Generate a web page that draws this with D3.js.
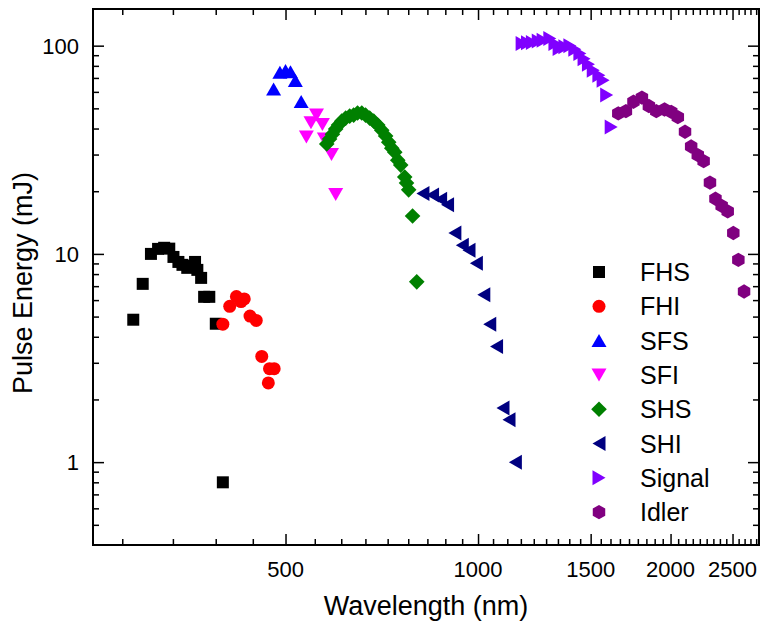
<!DOCTYPE html>
<html>
<head>
<meta charset="utf-8">
<script src="https://cdn.jsdelivr.net/npm/d3@7"></script>
<style>
body { margin: 0; background: #fff; }
text { font-family: "Liberation Sans", Arial, sans-serif; fill: #000; }
</style>
</head>
<body>
<div id="chart"></div>
<script>
// values: wavelength (nm), pulse energy (mJ)
var fhsWl = [289, 299, 308, 316, 323, 329, 334, 340, 345, 351, 358, 361, 364, 369, 373, 380, 389, 399];
var fhsE  = [4.83, 7.18, 10.0, 10.57, 10.7, 10.6, 9.67, 9.15, 8.86, 8.57, 8.76, 9.15, 8.38, 7.67, 6.22, 6.22, 4.62, 0.80];

var fhiWl = [399, 409, 419, 426, 431, 440, 450, 459, 470, 472, 480];
var fhiE  = [4.60, 5.60, 6.24, 5.90, 6.08, 5.03, 4.79, 3.22, 2.40, 2.81, 2.81];

var sfsWl = [479, 490, 500, 509, 518, 529];
var sfsE  = [61.9, 74.6, 75.9, 75.0, 68.0, 53.9];

var sfiWl = [539, 548, 559, 571, 575, 590, 599];
var sfiE  = [36.4, 42.7, 46.4, 41.8, 35.6, 30.0, 19.3];

var shsWl = [580, 586, 592, 599, 605, 612, 621, 630, 639, 648, 658, 667, 677, 687, 697, 707, 717, 725, 733, 741, 749, 757, 768, 773, 779, 790, 802];
var shsE  = [33.7, 35.6, 37.6, 39.8, 41.6, 43.4, 44.9, 45.9, 46.4, 47.5, 47.5, 46.4, 44.9, 43.4, 41.6, 39.3, 36.8, 34.4, 32.2, 30.8, 28.2, 26.7, 23.4, 21.9, 20.3, 15.2, 7.34];

var shiWl = [820, 849, 874, 896, 920, 945, 968, 994, 1021, 1043, 1069, 1094, 1118, 1144];
var shiE  = [19.5, 19.2, 18.3, 17.2, 12.6, 11.0, 10.4, 9.03, 6.36, 4.60, 3.59, 1.82, 1.60, 1.00];

var signalWl = [1172, 1195, 1216, 1242, 1264, 1295, 1319, 1339, 1367, 1392, 1417, 1443, 1465, 1488, 1514, 1545, 1569, 1589, 1615];
var signalE  = [102.5, 103.4, 103.6, 105.3, 106.3, 108.1, 102.5, 97.0, 98.7, 100, 96.2, 91.8, 86.6, 81.5, 76.3, 72.2, 68.3, 57.9, 40.7];

var idlerWl = [1657, 1703, 1750, 1804, 1850, 1900, 1957, 2005, 2053, 2107, 2154, 2206, 2253, 2305, 2351, 2404, 2457, 2507, 2553, 2606];
var idlerE  = [47.3, 48.5, 53.8, 56.3, 51.3, 48.5, 49.4, 48.1, 45.4, 38.6, 32.8, 29.8, 27.9, 22.0, 18.4, 17.0, 16.0, 12.6, 9.36, 6.6];

var seriesNames  = ["FHS", "FHI", "SFS", "SFI", "SHS", "SHI", "Signal", "Idler"];
var seriesColors = ["#000000", "#ff0000", "#0000ff", "#ff00ff", "#008000", "#000080", "#8000ff", "#800080"];
var seriesShapes = ["square", "circle", "up", "down", "diamond", "left", "right", "hexagon"];
var seriesWl = [fhsWl, fhiWl, sfsWl, sfiWl, shsWl, shiWl, signalWl, idlerWl];
var seriesE  = [fhsE, fhiE, sfsE, sfiE, shsE, shiE, signalE, idlerE];

var xMajor = [500, 1000, 1500, 2000, 2500];
var yMajor = [1, 10, 100];

var width = 761, height = 624;
var margin = {left: 93, top: 9, right: 2, bottom: 79};
var w = width - margin.left - margin.right;
var h = height - margin.top - margin.bottom;

var x = d3.scaleLog().domain([250, 2750]).range([0, w]);
var y = d3.scaleLog().domain([0.4, 150]).range([h, 0]);

// minor ticks: 8 evenly spaced values between the x majors
var xMinor = [];
for (var i = 0; i < 6; i++) {
	for (var k = 1; k <= 8; k++) {
		var v = i * 500 + k * 500 / 9;
		if (v > 250 && v < 2750) xMinor.push(v);
	}
}
var yMinor = [0.5, 0.6, 0.7, 0.8, 0.9];
[1, 10].forEach(function(d) {
	for (var k = 2; k <= 9; k++) yMinor.push(d * k);
});

function shapePath(s) {
	if (s == "square") return "M-6,-6h12v12h-12Z";
	if (s == "circle") return "M-6.5,0a6.5,6.5 0 1,0 13,0a6.5,6.5 0 1,0 -13,0Z";
	if (s == "up") return "M0,-6.5L7.5,6.5L-7.5,6.5Z";
	if (s == "down") return "M0,6.5L7.5,-6.5L-7.5,-6.5Z";
	if (s == "left") return "M-6.5,0L6.5,-7.5L6.5,7.5Z";
	if (s == "right") return "M6.5,0L-6.5,-7.5L-6.5,7.5Z";
	if (s == "diamond") return "M0,-7.8L7.8,0L0,7.8L-7.8,0Z";
	var pts = d3.range(6).map(function(j) {
		var a = Math.PI / 6 + j * Math.PI / 3;
		return [7.2 * Math.cos(a), 7.2 * Math.sin(a)];
	});
	return "M" + pts.join("L") + "Z";
}

var svg = d3.select("#chart").append("svg")
	.attr("width", width).attr("height", height)
	.style("background", "#fff");
var g = svg.append("g").attr("transform", "translate(" + margin.left + "," + margin.top + ")");

function tickAxis(axis, vals, size, pos) {
	var a = g.append("g").attr("transform", pos)
		.call(axis.tickValues(vals).tickSize(size).tickFormat(""));
	a.select(".domain").remove();
	a.selectAll("line").attr("stroke", "#000").attr("stroke-width", 1.5);
	return a;
}

// inward ticks on all four sides
tickAxis(d3.axisBottom(x), xMajor, -11, "translate(0," + h + ")");
tickAxis(d3.axisBottom(x), xMinor, -6, "translate(0," + h + ")");
tickAxis(d3.axisTop(x), xMajor, -11, "translate(0,0)");
tickAxis(d3.axisTop(x), xMinor, -6, "translate(0,0)");
tickAxis(d3.axisLeft(y), yMajor, -11, "translate(0,0)");
tickAxis(d3.axisLeft(y), yMinor, -6, "translate(0,0)");
tickAxis(d3.axisRight(y), yMajor, -11, "translate(" + w + ",0)");
tickAxis(d3.axisRight(y), yMinor, -6, "translate(" + w + ",0)");

g.append("rect").attr("width", w).attr("height", h)
	.attr("fill", "none").attr("stroke", "#000").attr("stroke-width", 2);

// tick labels
g.selectAll(".xlab").data(xMajor).enter().append("text")
	.attr("x", function(d) { return x(d); }).attr("y", h + 32)
	.attr("text-anchor", "middle").style("font-size", "22px")
	.text(function(d) { return d; });
g.selectAll(".ylab").data(yMajor).enter().append("text")
	.attr("x", -14).attr("y", function(d) { return y(d); }).attr("dy", "0.36em")
	.attr("text-anchor", "end").style("font-size", "22px")
	.text(function(d) { return d; });

// axis titles
svg.append("text").attr("x", margin.left + w / 2).attr("y", 615)
	.attr("text-anchor", "middle").style("font-size", "27px").text("Wavelength (nm)");
svg.append("text").attr("transform", "translate(32,283)rotate(-90)")
	.attr("text-anchor", "middle").style("font-size", "27px").text("Pulse Energy (mJ)");

// markers
seriesNames.forEach(function(name, si) {
	var pts = seriesWl[si].map(function(d, j) { return [d, seriesE[si][j]]; });
	g.append("g").selectAll("path").data(pts).enter().append("path")
		.attr("transform", function(d) { return "translate(" + x(d[0]) + "," + y(d[1]) + ")"; })
		.attr("d", shapePath(seriesShapes[si]))
		.attr("fill", seriesColors[si]);
});

// legend
var legend = svg.append("g").attr("transform", "translate(599,272)");
seriesNames.forEach(function(name, si) {
	var row = legend.append("g").attr("transform", "translate(0," + si * 34.3 + ")");
	row.append("path").attr("d", shapePath(seriesShapes[si])).attr("fill", seriesColors[si]);
	row.append("text").attr("x", 41).attr("dy", "0.36em").style("font-size", "25px").text(name);
});
</script>
</body>
</html>
